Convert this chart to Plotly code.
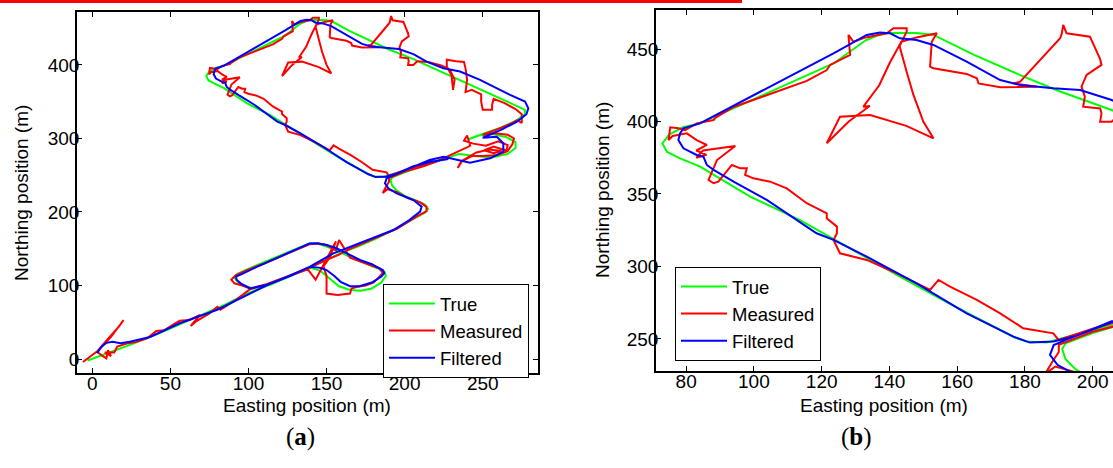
import plotly.graph_objects as go

# ---------------- data (metres) ----------------
true_x = [-3, 10, 25, 45, 65, 85, 100, 115, 130, 140,
          146, 152, 158, 165, 172, 179, 185, 188, 187, 183,
          175, 166, 158, 150, 144, 139,
          125, 110, 98, 93, 91, 93, 97, 103,
          115, 130, 142, 152, 160, 170, 182, 195, 206, 213, 215, 213, 208, 200, 195, 192, 191, 192,
          200, 212, 225, 235,
          245, 256, 266, 271, 271, 265, 256, 247, 241,
          250, 262, 272, 277, 277, 274,
          260, 240, 220, 205.6, 190, 178.6, 165, 153, 148, 140, 137,
          133, 123.5, 104, 84, 79, 75, 73, 74.3, 78.2,
          84.1, 98.9, 113.6, 128, 143.1, 158, 172.7, 177, 180.5, 186.4,
          195, 210]
true_y = [-2, 8, 20, 37, 56, 74, 90, 102, 116, 124,
          120, 110, 99, 94, 93, 96, 104, 113, 119, 123,
          130, 138, 146, 153, 157, 157,
          145, 132, 121, 116, 111, 105, 100, 96,
          103, 116, 127, 137, 145, 153, 164, 178, 191, 199, 204, 210, 215, 222, 229, 236, 243, 247,
          254, 263, 272, 279,
          276, 274, 279, 287, 295, 302, 306, 304, 299,
          306, 315, 325, 333, 339, 342,
          356, 375, 394, 407.9, 421, 432, 446, 459.7, 461, 461, 459.7,
          456, 440, 419.4, 398.7, 396, 391, 385, 379.2, 374.6,
          368.9, 348.2, 332, 313, 293, 274, 256.2, 251, 248.2, 247.5,
          253, 262]

meas_x = [-6, 4, 12, 19, 20, 17, 9, 3, 6, 9, 10, 12, 8, 14, 16, 22, 28, 35, 41, 46, 52, 56, 62, 69, 63, 67, 75, 80, 82, 91, 101,
          112, 125, 138,
          143, 156, 152, 148, 150, 150, 150, 157, 165, 166, 169, 175, 180, 183, 186, 184, 178,
          172, 165, 158, 156, 150, 145, 139,
          130, 122, 110, 98, 92, 89, 91, 96, 101,
          112, 125, 138, 148, 158, 165, 180, 195, 207, 214, 214, 210, 202, 195, 189, 186, 188, 190, 190,
          200, 212, 222, 232, 242, 240, 238, 244,
          252, 260, 266, 265, 259, 250, 243, 236, 234, 237, 246, 254, 262, 257, 251, 257, 266, 269, 270, 266, 258, 250,
          260, 268, 272, 275, 275, 271,
          264, 257, 256, 256, 250, 249, 249, 243, 239, 240, 239, 238, 233, 227, 227, 230, 231, 232, 229, 224, 215, 208,
          205.6, 202.2, 202.6, 202.2, 197.2, 197.7, 196.7, 198.2, 202.6, 202.2, 199.2, 192.3, 191.3, 190.9, 190.4,
          184.5, 178.6, 176.6, 183.5, 172.7, 166.3, 165.8, 162.8, 153, 152, 152.5, 154, 148, 143.5,
          140, 137, 132.3, 134.2, 128, 121.5, 125.4, 134.3, 145, 153, 150, 147.1, 145, 143, 145.1, 145.1, 141.2, 139.2,
          133, 129.4, 127.9, 128.4, 122.5, 121.5, 115.6, 103.8, 94, 88.6, 88.1, 83.1, 79.7, 77.7, 75.3, 74.8, 76, 80.2,
          83.1, 86.1, 83, 86, 83, 85, 94.5, 89.1, 86.6, 88.1, 89.5, 93.5, 96, 97.9, 97.4, 99.9, 104.8, 109.7,
          115.6, 119.5, 121.5, 121.5, 124.5, 124.5, 123.5, 125.4, 133.3, 142.2, 152, 154.5, 157.9, 165.8, 172.7,
          179.5, 185.4, 188.4, 189.9, 200, 215]
meas_y = [-4, 12, 30, 50, 53, 44, 25, 10, 5, 1, 12, 4, 9, 9, 17, 21, 23, 28, 38, 39, 47, 52, 53, 60, 45, 52, 62, 71, 67, 79, 95,
          102, 112, 122,
          108, 160, 138, 126, 113, 107, 89, 87, 89, 96, 98, 100, 104, 110, 117, 123, 128,
          132, 138, 162, 148, 155, 157, 156,
          148, 140, 130, 120, 114, 108, 103, 100, 96,
          102, 112, 123, 133, 142, 150, 163, 177, 193, 201, 207, 213, 219, 227, 231, 226, 234, 241, 246,
          255, 262, 270, 280, 290, 304, 297, 293,
          290, 296, 291, 282, 277, 276, 276, 268, 260, 270, 281, 285, 283, 280, 284, 289, 283, 292, 300, 305, 307, 305,
          313, 320, 325, 321, 333, 340,
          348, 354, 346, 339, 339, 350, 360, 366, 363, 380, 395, 404, 405, 407, 398, 386, 366, 380, 393, 399, 404, 405,
          399.9, 399.9, 405.6, 409, 410.2, 417.1, 424, 432.1, 439, 443, 458.5, 460.8, 466.6, 460.8, 457.4,
          442.4, 427.5, 426.3, 424, 423.6, 426.3, 429.8, 432.8, 436.7, 437.8, 455, 460.8, 458, 455,
          440, 425, 410.2, 410.7, 400, 385, 403.3, 404.5, 397, 388.4, 400, 418.3, 435, 452, 462, 464.3, 464.3, 460.8,
          458, 455, 459.7, 446, 439, 435.5, 428, 418, 410, 402.5, 401, 398.7, 394, 395.3, 396, 387.2, 390, 391.8,
          387.2, 383.8, 380, 377, 375, 380, 383.1, 373.4, 359.7, 357.4, 358.5, 370, 367.7, 367.7, 363.1, 360.8, 358.5, 353.9,
          343.6, 339, 336.7, 333.2, 327.5, 322.9, 318.3, 309.1, 304.5, 295.3, 283.8, 290.7, 286.1, 276.9, 267.7,
          257.4, 255.1, 253.9, 249.3, 257, 267]

filt_x = [3, 6, 9, 13, 18, 24, 37, 56, 80, 100, 112, 127, 139.4,
          146, 150, 155, 159, 165, 171, 179, 185, 187, 186,
          179, 171.4, 163, 156, 150.1, 144, 139,
          122.3, 105, 96.7, 92, 92.5, 95, 101,
          112, 125, 139.4, 154.4, 165, 180, 192.8, 203, 209.9, 210.9, 205.6, 200, 194.9, 189.6, 187.4, 188.5, 191.7,
          205, 216, 225,
          233.3, 241.9, 254.7, 263.2, 263.2, 259, 250,
          262, 272, 278, 279.2, 277.1, 267.5, 259, 248.3, 235.5, 224.8, 214.1, 205.6, 196.3, 188.4, 178.6, 172.7,
          162.8, 153, 148, 143.1, 140.2, 137.2, 133.3, 123.5, 103.8, 84.1, 79.2, 78.2, 77.7, 79.2, 83.1, 85.1, 86.1, 88.1,
          94, 103.8, 118.5, 123.5, 133.3, 148, 162.8, 176.6, 181.5, 188.4, 195, 205.6, 216, 228]
filt_y = [8, 17, 22, 23.5, 21.5, 23.5, 30, 48.6, 67, 88, 100.7, 113, 125.6,
          124, 121, 113, 105, 99, 99, 104, 112, 117, 121,
          129, 134.7, 143.8, 151, 155.1, 157.6, 157,
          141.5, 125, 116.6, 112, 107.5, 103, 96,
          101, 112, 125.6, 143.8, 152.8, 165, 175.5, 189, 200.5, 207.3, 216.3, 221, 225.4, 232.2, 239, 245.8, 249,
          261, 270.7, 275,
          270.7, 267.1, 273, 282.1, 293.5, 302.4, 301,
          312, 323, 333, 341, 350.1, 359.2, 368.3, 379.6, 391, 395.5, 404.5, 414.8, 421.7, 422.9, 425.2, 428.6,
          441.3, 452.8, 456.2, 457.4, 460.8, 461.3, 459.7, 447, 422.9, 398.7, 395.3, 391.8, 387.2, 381.5, 376.9, 375.7, 370, 366.6,
          358.5, 345.9, 322.9, 318.3, 306.8, 288.4, 267.7, 251.6, 247.5, 248.2, 252, 262.2, 268, 272]

series_names = ["True", "Measured", "Filtered"]
series_colors = ["#00ff00", "#ff0000", "#0000ff"]

xticks_a = [0, 50, 100, 150, 200, 250]
yticks_a = [0, 100, 200, 300, 400]
xticks_b = [80, 100, 120, 140, 160, 180, 200]
yticks_b = [250, 300, 350, 400, 450]

# ---------------- figure ----------------
W, H = 1113, 468
FONT = "Arial, Liberation Sans, sans-serif"
fig = go.Figure()

data = [(true_x, true_y), (meas_x, meas_y), (filt_x, filt_y)]
for (xs, ys), nm, col in zip(data, series_names, series_colors):
    fig.add_trace(go.Scatter(x=xs, y=ys, mode="lines", name=nm,
                             line=dict(color=col, width=2),
                             xaxis="x", yaxis="y", legend="legend"))
for (xs, ys), nm, col in zip(data, series_names, series_colors):
    fig.add_trace(go.Scatter(x=xs, y=ys, mode="lines", name=nm,
                             line=dict(color=col, width=2),
                             xaxis="x2", yaxis="y2", legend="legend2"))

def px_x(p):
    return p / W

def px_y(p):
    return 1 - p / H

axis_common = dict(showgrid=False, zeroline=False, showline=True, linecolor="black",
                   linewidth=1.5, ticks="inside", ticklen=5, tickcolor="black",
                   tickfont=dict(family=FONT, size=19, color="black"))

fig.update_layout(
    width=W, height=H,
    margin=dict(l=0, r=0, t=0, b=0),
    paper_bgcolor="white", plot_bgcolor="white",
    xaxis=dict(domain=[px_x(77), px_x(538)], range=[-9.8, 285.4], tickvals=xticks_a,
               anchor="y", mirror="ticks", ticklabelstandoff=-8, **axis_common),
    yaxis=dict(domain=[px_y(373), px_y(12)], range=[-19, 472], tickvals=yticks_a,
               anchor="x", mirror="ticks", ticklabelstandoff=-8, **axis_common),
    xaxis2=dict(domain=[px_x(656), 1.0], range=[71.1, 206.0], tickvals=xticks_b,
                anchor="y2", mirror="ticks", ticklabelstandoff=-8, **axis_common),
    yaxis2=dict(domain=[px_y(371), px_y(10)], range=[227.9, 476.9], tickvals=yticks_b,
                anchor="x2", mirror=False, ticklabelstandoff=-8, **axis_common),
    legend=dict(x=px_x(383), y=px_y(284), xanchor="left", yanchor="top",
                bgcolor="white", bordercolor="black", borderwidth=1,
                font=dict(family=FONT, size=18.5, color="black"), itemwidth=46, tracegroupgap=0),
    legend2=dict(x=px_x(675), y=px_y(267), xanchor="left", yanchor="top",
                 bgcolor="white", bordercolor="black", borderwidth=1,
                 font=dict(family=FONT, size=18.5, color="black"), itemwidth=46, tracegroupgap=0),
    showlegend=True,
)

ann_font = dict(family=FONT, size=19, color="black")
cap_font = dict(family="Times New Roman, Liberation Serif, serif", size=25, color="black")
fig.add_annotation(x=px_x(307), y=px_y(405), xref="paper", yref="paper", text="Easting position (m)",
                   showarrow=False, font=ann_font, xanchor="center", yanchor="middle")
fig.add_annotation(x=px_x(884), y=px_y(405), xref="paper", yref="paper", text="Easting position (m)",
                   showarrow=False, font=ann_font, xanchor="center", yanchor="middle")
fig.add_annotation(x=px_x(21), y=px_y(193), xref="paper", yref="paper", text="Northing position (m)",
                   showarrow=False, font=ann_font, textangle=-90, xanchor="center", yanchor="middle")
fig.add_annotation(x=px_x(602), y=px_y(190), xref="paper", yref="paper", text="Northing position (m)",
                   showarrow=False, font=ann_font, textangle=-90, xanchor="center", yanchor="middle")
fig.add_annotation(x=px_x(300), y=px_y(437), xref="paper", yref="paper", text="(<b>a</b>)",
                   showarrow=False, font=cap_font, xanchor="center", yanchor="middle")
fig.add_annotation(x=px_x(856), y=px_y(437), xref="paper", yref="paper", text="(<b>b</b>)",
                   showarrow=False, font=cap_font, xanchor="center", yanchor="middle")

# red rule along the top edge (cropped underline in the source image)
fig.add_shape(type="rect", xref="paper", yref="paper", x0=0, x1=px_x(742), y0=px_y(3), y1=1.0,
              fillcolor="#ff0000", line=dict(width=0), layer="above")

fig.write_html("out.html", config={"displayModeBar": False},
               post_script="document.body.style.margin='0px';document.body.style.overflow='hidden';")
